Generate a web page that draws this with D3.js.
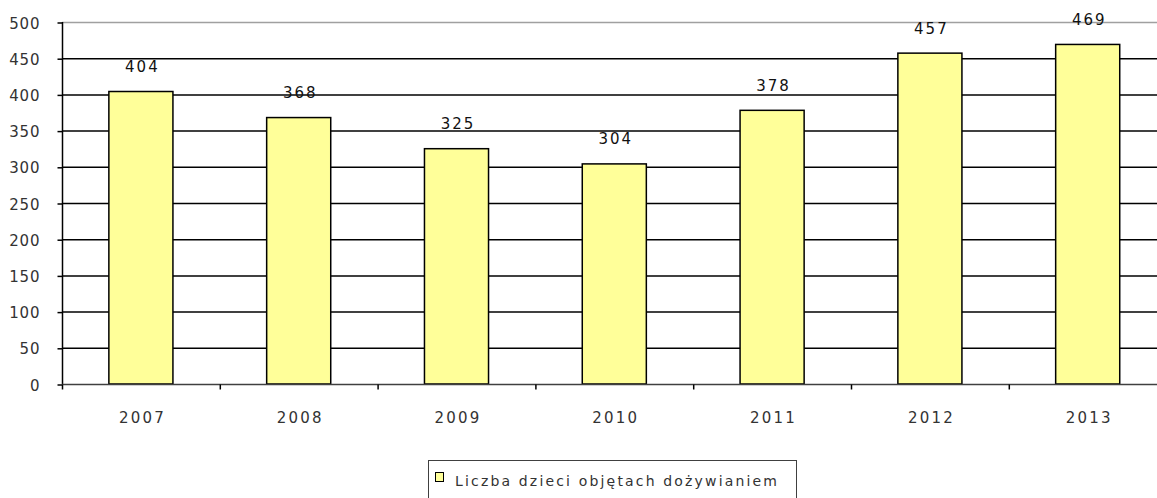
<!DOCTYPE html>
<html><head><meta charset="utf-8">
<script src="https://cdn.jsdelivr.net/npm/d3@7"></script>
<style>body{margin:0;background:#fff}svg{display:block}</style>
</head><body>
<svg id="c" width="1157" height="498"></svg>
<script>
const categories = ["2007","2008","2009","2010","2011","2012","2013"];
const values = [404, 368, 325, 304, 378, 457, 469];
const yTicks = [0,50,100,150,200,250,300,350,400,450,500];
const seriesName = "Liczba dzieci objętach dożywianiem";

const svg = d3.select("#c");
const font = "DejaVu Sans, Verdana, sans-serif";
const x = d3.scaleBand().domain(categories).range([62, 62 + 7*157.8]).paddingInner(0.594).paddingOuter(0.297);
const y = d3.scaleLinear().domain([0,500]).range([384, 22]);

// gridlines
svg.append("g").selectAll("line").data(yTicks.filter(d=>d>0)).join("line")
  .attr("x1", 62).attr("x2", 1170)
  .attr("y1", d=>y(d)+0.5).attr("y2", d=>y(d)+0.5)
  .attr("stroke", d=> d===500 ? "#a0a0a0" : "#000").attr("stroke-width", 1.5);

// y axis
const ya = svg.append("g").attr("transform","translate(62.5,0)")
  .call(d3.axisLeft(y).tickValues(yTicks).tickSize(5).tickPadding(17));
ya.select(".domain").attr("stroke","#000").attr("stroke-width",1.5).attr("d","M0,22V384");
ya.selectAll(".tick line").attr("stroke","#000").attr("stroke-width",1.5).attr("transform","translate(0,0.5)");
ya.selectAll(".tick text").attr("font-family",font).attr("font-size",15).attr("fill","#333")
  .attr("letter-spacing","0.9px").attr("dy","0.4em");

// bars
svg.append("g").selectAll("rect").data(values).join("rect")
  .attr("x", (d,i)=>x(categories[i]))
  .attr("width", x.bandwidth())
  .attr("y", d=>y(d))
  .attr("height", d=>y(0)-y(d))
  .attr("fill","#ffff99").attr("stroke","#000").attr("stroke-width",1.5);

// x axis
const xa = svg.append("g").attr("transform","translate(0,384.5)");
xa.append("line").attr("x1",62).attr("x2",1170).attr("stroke","#404040").attr("stroke-width",1.5);
const xb = d3.scaleBand().domain(categories).range(x.range());
xa.selectAll("line.t").data(categories).join("line").attr("class","t")
  .attr("x1", d=>xb(d)+0.5).attr("x2", d=>xb(d)+0.5).attr("y1",0).attr("y2",5)
  .attr("stroke","#000").attr("stroke-width",1.5);
xa.selectAll("text").data(categories).join("text")
  .attr("x", d=>x(d)+x.bandwidth()/2+1.5).attr("y", 38)
  .attr("text-anchor","middle").attr("font-family",font).attr("font-size",15)
  .attr("letter-spacing","2.2px").attr("fill","#333").text(d=>d);

// value labels
svg.append("g").selectAll("text").data(values).join("text")
  .attr("x", (d,i)=>x(categories[i])+x.bandwidth()/2+1.5)
  .attr("y", d=>y(d)-19.5)
  .attr("text-anchor","middle").attr("font-family",font).attr("font-size",15)
  .attr("letter-spacing","2px").attr("fill","#111").text(d=>d);

// legend
const lg = svg.append("g");
lg.append("rect").attr("x",428.5).attr("y",460.5).attr("width",368).attr("height",50)
  .attr("fill","#fff").attr("stroke","#404040").attr("stroke-width",1);
lg.append("rect").attr("x",435.5).attr("y",472.5).attr("width",8).attr("height",9)
  .attr("fill","#ffff99").attr("stroke","#000").attr("stroke-width",1);
lg.append("text").attr("x",455).attr("y",486).attr("font-family",font).attr("font-size",14)
  .attr("fill","#333").attr("textLength",322).attr("lengthAdjust","spacing").text(seriesName);
</script>
</body></html>
